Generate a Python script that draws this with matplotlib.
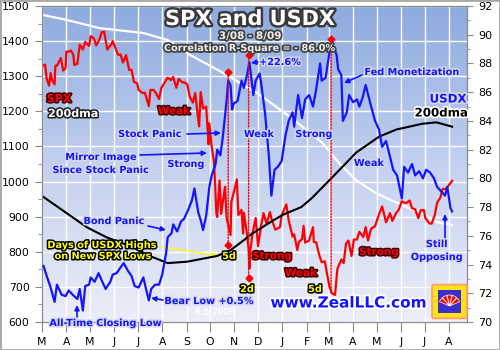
import matplotlib
matplotlib.use("Agg")
import matplotlib.pyplot as plt
import matplotlib.dates as mdates
import matplotlib.patheffects as pe
from matplotlib.colors import LinearSegmentedColormap
from matplotlib.patches import Rectangle, FancyBboxPatch, ConnectionPatch, Wedge
import numpy as np
import pandas as pd

# --------------------------------------------------------------------------- #
# Data
# --------------------------------------------------------------------------- #
spx_dates = [
    "2008-03-03", "2008-03-05", "2008-03-07", "2008-03-10", "2008-03-12", "2008-03-14",
    "2008-03-17", "2008-03-18", "2008-03-20", "2008-03-25", "2008-03-28", "2008-03-31",
    "2008-04-01", "2008-04-04", "2008-04-07", "2008-04-10", "2008-04-11", "2008-04-15",
    "2008-04-18", "2008-04-22", "2008-04-25", "2008-04-30", "2008-05-02", "2008-05-06",
    "2008-05-09", "2008-05-13", "2008-05-16", "2008-05-19", "2008-05-22", "2008-05-23",
    "2008-05-28", "2008-05-30", "2008-06-03", "2008-06-06", "2008-06-09", "2008-06-12",
    "2008-06-16", "2008-06-20", "2008-06-23", "2008-06-26", "2008-06-30", "2008-07-02",
    "2008-07-07", "2008-07-10", "2008-07-15", "2008-07-17", "2008-07-21", "2008-07-24",
    "2008-07-28", "2008-07-31", "2008-08-05", "2008-08-08", "2008-08-12", "2008-08-15",
    "2008-08-19", "2008-08-22", "2008-08-27", "2008-08-29", "2008-09-02", "2008-09-05",
    "2008-09-09", "2008-09-12", "2008-09-15", "2008-09-17", "2008-09-19", "2008-09-22",
    "2008-09-26", "2008-09-29", "2008-09-30", "2008-10-03", "2008-10-06", "2008-10-09",
    "2008-10-10", "2008-10-13", "2008-10-15", "2008-10-17", "2008-10-20", "2008-10-22",
    "2008-10-24", "2008-10-27", "2008-10-28", "2008-10-31", "2008-11-04", "2008-11-06",
    "2008-11-10", "2008-11-12", "2008-11-13", "2008-11-17", "2008-11-19", "2008-11-20",
    "2008-11-21", "2008-11-24", "2008-11-28", "2008-12-01", "2008-12-05", "2008-12-08",
    "2008-12-12", "2008-12-16", "2008-12-19", "2008-12-23", "2008-12-29", "2008-12-31",
    "2009-01-06", "2009-01-09", "2009-01-14", "2009-01-16", "2009-01-20", "2009-01-22",
    "2009-01-26", "2009-01-28", "2009-01-30", "2009-02-04", "2009-02-09", "2009-02-10",
    "2009-02-13", "2009-02-17", "2009-02-20", "2009-02-24", "2009-02-27", "2009-03-02",
    "2009-03-05", "2009-03-09", "2009-03-12", "2009-03-17", "2009-03-20", "2009-03-23",
    "2009-03-26", "2009-03-30", "2009-04-02", "2009-04-06", "2009-04-09", "2009-04-14",
    "2009-04-17", "2009-04-20", "2009-04-24", "2009-04-29", "2009-05-04", "2009-05-08",
    "2009-05-13", "2009-05-18", "2009-05-21", "2009-05-26", "2009-05-29", "2009-06-02",
    "2009-06-05", "2009-06-08", "2009-06-12", "2009-06-15", "2009-06-19", "2009-06-23",
    "2009-06-26", "2009-06-30", "2009-07-02", "2009-07-07", "2009-07-10", "2009-07-14",
    "2009-07-17", "2009-07-21", "2009-07-24", "2009-07-28", "2009-07-31", "2009-08-05",
]
spx_close = [
    1331, 1333, 1293, 1273, 1309, 1288,
    1277, 1330, 1330, 1352, 1316, 1323,
    1370, 1370, 1373, 1360, 1332, 1335,
    1390, 1376, 1398, 1386, 1414, 1408,
    1388, 1404, 1425, 1427, 1391, 1376,
    1390, 1400, 1377, 1361, 1362, 1339,
    1360, 1318, 1318, 1284, 1280, 1261,
    1252, 1253, 1215, 1261, 1261, 1252,
    1235, 1267, 1285, 1296, 1289, 1298,
    1267, 1292, 1282, 1283, 1277, 1242,
    1225, 1252, 1193, 1157, 1255, 1208,
    1213, 1106, 1166, 1099, 1056, 910,
    899, 1003, 908, 940, 985, 896,
    877, 848, 941, 968, 1006, 905,
    919, 852, 911, 850, 807, 752,
    800, 852, 896, 816, 876, 910,
    879, 913, 888, 863, 870, 903,
    935, 890, 843, 850, 805, 828,
    836, 874, 826, 832, 870, 828,
    827, 790, 770, 773, 735, 700,
    682, 677, 751, 778, 768, 823,
    832, 788, 835, 835, 857, 842,
    870, 832, 866, 873, 907, 929,
    884, 910, 888, 911, 919, 944,
    940, 939, 946, 924, 921, 896,
    918, 919, 896, 881, 880, 905,
    940, 954, 979, 979, 987, 1002,
]

usdx_dates = [
    "2008-03-03", "2008-03-07", "2008-03-12", "2008-03-17", "2008-03-20", "2008-03-26",
    "2008-03-31", "2008-04-04", "2008-04-09", "2008-04-15", "2008-04-18", "2008-04-22",
    "2008-04-25", "2008-04-30", "2008-05-02", "2008-05-07", "2008-05-12", "2008-05-16",
    "2008-05-21", "2008-05-27", "2008-05-30", "2008-06-04", "2008-06-09", "2008-06-13",
    "2008-06-18", "2008-06-23", "2008-06-27", "2008-07-02", "2008-07-08", "2008-07-11",
    "2008-07-15", "2008-07-18", "2008-07-23", "2008-07-28", "2008-08-01", "2008-08-06",
    "2008-08-08", "2008-08-13", "2008-08-15", "2008-08-20", "2008-08-25", "2008-08-29",
    "2008-09-03", "2008-09-08", "2008-09-11", "2008-09-16", "2008-09-19", "2008-09-22",
    "2008-09-26", "2008-09-30", "2008-10-03", "2008-10-08", "2008-10-10", "2008-10-14",
    "2008-10-17", "2008-10-22", "2008-10-24", "2008-10-27", "2008-10-29", "2008-10-31",
    "2008-11-05", "2008-11-10", "2008-11-13", "2008-11-17", "2008-11-20", "2008-11-25",
    "2008-11-28", "2008-12-03", "2008-12-05", "2008-12-10", "2008-12-15", "2008-12-18",
    "2008-12-22", "2008-12-26", "2008-12-31", "2009-01-05", "2009-01-09", "2009-01-14",
    "2009-01-16", "2009-01-21", "2009-01-26", "2009-01-30", "2009-02-04", "2009-02-09",
    "2009-02-13", "2009-02-18", "2009-02-20", "2009-02-25", "2009-03-02", "2009-03-04",
    "2009-03-09", "2009-03-11", "2009-03-13", "2009-03-17", "2009-03-19", "2009-03-24",
    "2009-03-27", "2009-04-01", "2009-04-06", "2009-04-09", "2009-04-13", "2009-04-17",
    "2009-04-24", "2009-04-29", "2009-05-04", "2009-05-08", "2009-05-13", "2009-05-18",
    "2009-05-22", "2009-05-27", "2009-06-02", "2009-06-05", "2009-06-10", "2009-06-15",
    "2009-06-19", "2009-06-24", "2009-06-29", "2009-07-03", "2009-07-08", "2009-07-13",
    "2009-07-17", "2009-07-22", "2009-07-27", "2009-07-30", "2009-08-03", "2009-08-05",
]
usdx_close = [
    73.9, 73.2, 72.4, 71.4, 72.6, 71.9,
    71.8, 72.2, 71.9, 71.6, 72.3, 70.8,
    72.5, 72.6, 73.1, 72.8, 73.4, 72.9,
    72.3, 72.8, 73.3, 73.4, 73.8, 74.1,
    73.6, 73.2, 72.5, 72.4, 73.1, 72.4,
    71.5, 72.3, 72.6, 72.6, 73.3, 74.8,
    75.9, 76.2, 76.8, 76.3, 77.0, 77.2,
    77.8, 78.5, 79.3, 77.6, 77.1, 76.4,
    77.4, 79.4, 80.2, 81.0, 82.0, 81.6,
    82.8, 85.4, 86.8, 86.5, 84.8, 85.2,
    85.4, 86.8, 86.3, 87.2, 88.1, 85.8,
    86.8, 87.3, 86.6, 84.5, 81.4, 78.8,
    80.6, 80.8, 81.2, 83.0, 84.0, 84.6,
    83.6, 85.8, 84.2, 85.5, 85.8, 85.0,
    86.2, 88.0, 86.8, 87.0, 88.8, 89.1,
    88.9, 88.6, 87.6, 87.2, 84.0, 84.6,
    85.8, 85.3, 85.5, 85.0, 85.6, 86.5,
    85.0, 84.0, 83.4, 82.2, 82.6, 81.5,
    80.6, 80.2, 78.6, 80.8, 80.4, 81.0,
    80.2, 80.5, 80.0, 80.6, 80.4, 80.0,
    79.4, 79.1, 78.8, 79.4, 77.9, 77.7,
]

spx_dma_dates = ["2008-03-03", "2008-04-02", "2008-05-13", "2008-07-08", "2008-08-08",
                 "2008-09-06", "2008-10-18", "2008-11-30", "2009-01-11", "2009-02-21",
                 "2009-03-14", "2009-04-05", "2009-04-30", "2009-06-08", "2009-06-28",
                 "2009-07-16", "2009-08-05"]
spx_dma = [1474, 1460, 1437, 1423, 1403,
           1360, 1309, 1252, 1184, 1110,
           1053, 1004, 967, 927, 910,
           885, 876]

usdx_dma_dates = ["2008-03-03", "2008-04-27", "2008-05-22", "2008-06-25", "2008-07-16",
                  "2008-08-08", "2008-09-02", "2008-10-10", "2008-10-27", "2008-11-13",
                  "2008-11-22", "2008-12-21", "2009-01-03", "2009-01-25", "2009-02-07",
                  "2009-03-06", "2009-04-05", "2009-05-04", "2009-05-26", "2009-06-28",
                  "2009-07-16", "2009-08-05"]
usdx_dma = [78.7, 76.6, 75.9, 75.2, 74.6,
            74.1, 74.2, 74.6, 75.0, 75.7,
            76.1, 77.1, 77.5, 78.0, 78.6,
            80.1, 81.8, 82.9, 83.4, 83.8,
            83.9, 83.6]

# days of USDX highs on new SPX lows
high_dates = ["2008-10-24", "2008-11-19", "2009-03-04"]
high_usdx = [87.4, 88.6, 89.7]
low_spx = [819, 725, 682]
low_marked = [True, True, False]

month_letters = list("MAMJJASONDJFMAMJJA")

# --------------------------------------------------------------------------- #
W, H = 500, 350
L, R, T, B = 42, 467, 6, 322

BLUE = "#1414ff"
RED = "#ff0000"
YEL = "#ffff00"


def P(x, y):
    """top-left pixel -> figure fraction"""
    return x / W, 1 - y / H


fig = plt.figure(figsize=(W / 100, H / 100), dpi=100)
fig.patch.set_facecolor("white")
rect = [L / W, 1 - B / H, (R - L) / W, (B - T) / H]

bg = fig.add_axes(rect, zorder=-1)
cmap = LinearSegmentedColormap.from_list("bg", ["#8eaadf", "#c3d0ef", "#eceef8"])
bg.imshow(np.linspace(0, 1, 256)[:, None], aspect="auto", cmap=cmap,
          extent=[0, 1, 0, 1])
bg.axis("off")

ax = fig.add_axes(rect)
ax.patch.set_visible(False)
ax2 = ax.twinx()

sd = pd.to_datetime(spx_dates)
ud = pd.to_datetime(usdx_dates)
ax.plot(pd.to_datetime(spx_dma_dates), spx_dma, color="white", lw=1.6, zorder=2)
ax.plot(sd, spx_close, color=RED, lw=1.6, zorder=3)
ax2.plot(pd.to_datetime(usdx_dma_dates), usdx_dma, color="black", lw=1.5, zorder=2)
ax2.plot(ud, usdx_close, color=BLUE, lw=1.6, zorder=3)

# dotted links between USDX highs and SPX lows
hd = mdates.date2num(pd.to_datetime(high_dates))
for d, hi, lo, mk in zip(hd, high_usdx, low_spx, low_marked):
    con = ConnectionPatch(xyA=(d, hi), coordsA=ax2.transData,
                          xyB=(d, lo), coordsB=ax.transData,
                          color=RED, ls=(0, (1, 1.2)), lw=1.0, zorder=4)
    ax2.add_artist(con)
    ax2.plot([d], [hi], "D", color=RED, ms=3.5, zorder=5)
    if mk:
        ax.plot([d], [lo], "D", color=RED, ms=3.5, zorder=5)

ax.set_xlim(pd.Timestamp("2008-03-01"), pd.Timestamp("2009-08-24"))
ax.set_ylim(600, 1500)
ax2.set_ylim(70, 92)

months = pd.date_range("2008-03-01", "2009-08-01", freq="MS")
ax.set_xticks(months)
ax.set_xticklabels(month_letters)
ax.set_yticks(np.arange(600, 1501, 100))
ax.set_yticks(np.arange(650, 1500, 100), minor=True)
ax2.set_yticks(np.arange(70, 93, 2))
ax2.set_yticks(np.arange(71, 92, 1), minor=True)

ax.grid(True, color="white", lw=1.0, zorder=0)
ax.set_axisbelow(True)
for a in (ax, ax2):
    for s in a.spines.values():
        s.set_color("#8a8a8a")
ax.tick_params(axis="x", length=7, color="#8a8a8a", pad=4, labelsize=7.8)
ax.tick_params(axis="y", length=5, color="#8a8a8a", pad=4, labelsize=7.8)
ax.tick_params(axis="y", which="minor", length=3, color="#8a8a8a")
ax2.tick_params(axis="y", length=4, color="#8a8a8a", pad=4, labelsize=8)
ax2.tick_params(axis="y", which="minor", length=2, color="#8a8a8a")

# --------------------------------------------------------------------------- #
# Labels
# --------------------------------------------------------------------------- #
def halo(c, w):
    return [pe.withStroke(linewidth=w, foreground=c)]


def lab(x, y, s, color, edge, fs=7, w=2.2, weight="bold", **kw):
    fig.text(*P(x, y), s, color=color, fontsize=fs, fontweight=weight,
             ha="center", va="center", path_effects=halo(edge, w), **kw)


def arrow(x0, y0, x1, y1, color=BLUE, lw=1.2):
    ax.annotate("", xy=P(x1, y1), xycoords="figure fraction",
                xytext=P(x0, y0), textcoords="figure fraction",
                arrowprops=dict(arrowstyle="-|>", color=color, lw=lw,
                                mutation_scale=7, shrinkA=0, shrinkB=0))


blue_edge = "#d4d8ea"
red_edge = "#3a0000"

lab(250, 19, "SPX and USDX", "white", "#3a3a3a", fs=15, w=3.5)
lab(250, 36, "3/08 - 8/09", "#f0f0f0", "#404040", fs=7.5, w=2.5)
lab(250, 48, "Correlation R-Square = - 86.0%", "#eeeeee", "#404040", fs=7, w=2.5)

lab(59, 99, "SPX", RED, red_edge, fs=8)
lab(73, 114, "200dma", "white", "#202020", fs=8)
lab(448, 99, "USDX", BLUE, blue_edge, fs=8.5, w=2.5)
lab(441, 113, "200dma", "black", "white", fs=8.5, w=2.5)

lab(174, 111, "Weak", RED, red_edge, fs=7.5)
lab(272, 256, "Strong", RED, red_edge, fs=7.5)
lab(301, 273, "Weak", RED, red_edge, fs=7.5)
lab(379, 252, "Strong", RED, red_edge, fs=7.5)

lab(150, 134, "Stock Panic", BLUE, blue_edge)
arrow(187, 134, 221, 133)
lab(101, 157, "Mirror Image", BLUE, blue_edge)
lab(101, 170, "Since Stock Panic", BLUE, blue_edge)
arrow(140, 155, 207, 153)
lab(186, 164, "Strong", BLUE, blue_edge)
lab(114, 221, "Bond Panic", BLUE, blue_edge)
arrow(148, 226, 166, 230)
lab(280, 62, "+22.6%", BLUE, blue_edge)
arrow(258, 62, 251, 63)
lab(259, 134, "Weak", BLUE, blue_edge)
lab(314, 134, "Strong", BLUE, blue_edge)
lab(412, 72, "Fed Monetization", BLUE, blue_edge)
arrow(362, 75, 344, 83)
lab(369, 163, "Weak", BLUE, blue_edge)
lab(437, 244, "Still", BLUE, blue_edge)
lab(437, 257, "Opposing", BLUE, blue_edge)
arrow(445, 239, 445, 214)
lab(106, 323, "All-Time Closing Low", BLUE, blue_edge)
arrow(77, 317, 77, 305)
lab(209, 301, "Bear Low +0.5%", BLUE, blue_edge)
arrow(163, 300, 151, 298)
lab(215, 312, "8.5.2009", "white", "white", fs=6.5, w=0, weight="normal")

lab(102, 245, "Days of USDX Highs", YEL, "black", fs=7)
lab(103, 256, "on New SPX Lows", YEL, "black", fs=7)
arrow(162, 247, 219, 256, color=YEL, lw=1.0)
lab(229, 256, "5d", YEL, "black", fs=7)
lab(247, 289, "2d", YEL, "black", fs=7)
lab(315, 289, "5d", YEL, "black", fs=7)

lab(348, 303, "www.ZealLLC.com", BLUE, "white", fs=11, w=3)

# logo
x0, y0 = P(434, 317)
x1, y1 = P(465, 286)
fig.add_artist(FancyBboxPatch((x0, y0), x1 - x0, y1 - y0,
                              boxstyle="round,pad=0.004", transform=fig.transFigure,
                              facecolor="#ffe21a", edgecolor="#ff9a6a", lw=1.2))
ix0, iy0 = P(438, 313)
ix1, iy1 = P(461, 290)
fig.add_artist(Rectangle((ix0, iy0), ix1 - ix0, iy1 - iy0, transform=fig.transFigure,
                         facecolor="#3a2fc8", edgecolor="none"))
cx, cy = 449.5, 306
for k in range(5):
    th = 35 + k * 27.5
    fig.add_artist(Wedge((cx, H - cy), 11, th - 12, th + 12, transform=None,
                         facecolor=RED, edgecolor="white", lw=0.5))

fig.add_artist(Rectangle((0, 0), 1, 1, transform=fig.transFigure, fill=False,
                         edgecolor="#a8a8a8", lw=2))

fig.savefig("out.png", dpi=100)
